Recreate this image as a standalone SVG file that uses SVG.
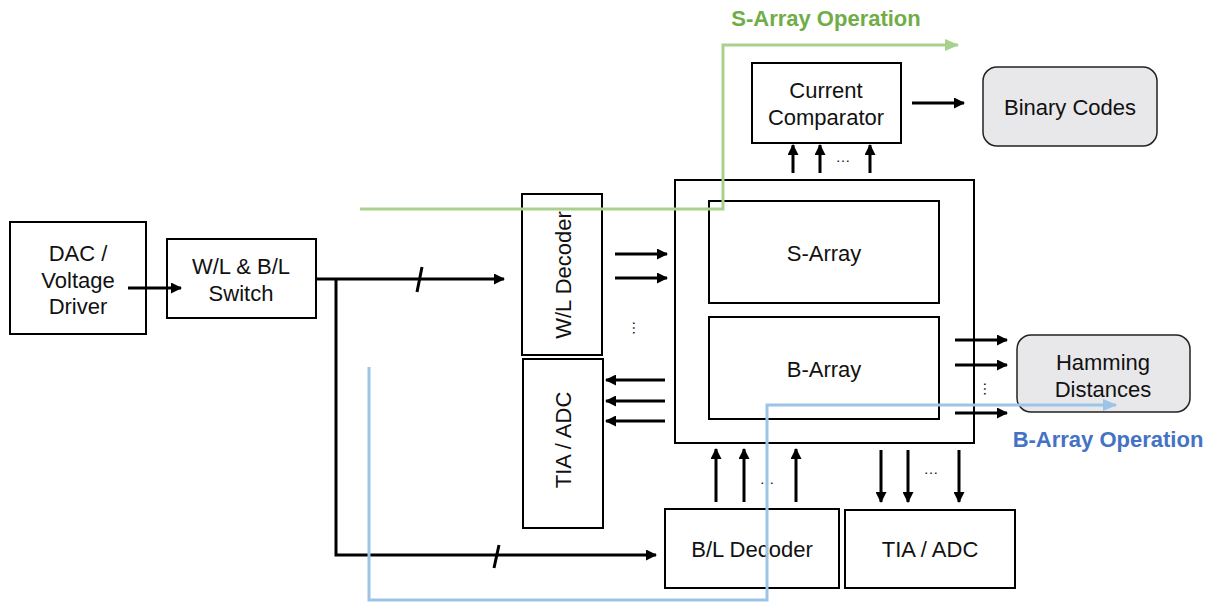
<svg xmlns="http://www.w3.org/2000/svg" width="1216" height="603" viewBox="0 0 1216 603">
<defs>
<marker id="ah" markerWidth="11" markerHeight="11" refX="10" refY="5.5" orient="auto" markerUnits="userSpaceOnUse"><path d="M0,0 L11,5.5 L0,11 z" fill="#000"/></marker>
<marker id="ag" markerWidth="14" markerHeight="12" refX="13" refY="6" orient="auto" markerUnits="userSpaceOnUse"><path d="M0,0 L14,6 L0,12 z" fill="#a9d18e"/></marker>
<marker id="ab" markerWidth="14" markerHeight="12" refX="13" refY="6" orient="auto" markerUnits="userSpaceOnUse"><path d="M0,0 L14,6 L0,12 z" fill="#9dc3e6"/></marker>
<style>
.box{fill:#fff;stroke:#000;stroke-width:2}
.rbox{fill:#e8e8ea;stroke:#222;stroke-width:1.5}
.t{font-family:"Liberation Sans",Arial,sans-serif;font-size:22px;fill:#111;text-anchor:middle}
.c{stroke:#000;stroke-width:3;fill:none}
.ca{stroke:#000;stroke-width:3;fill:none;marker-end:url(#ah)}
.dots{font-family:"Liberation Sans",Arial,sans-serif;font-size:15px;fill:#111;text-anchor:middle}
.op{font-family:"Liberation Sans",Arial,sans-serif;font-size:22px;font-weight:bold;text-anchor:middle}
</style>
</defs>
<rect width="1216" height="603" fill="#fff"/>

<g id="dac"><rect class="box" x="10" y="222" width="136" height="112"/>
<text class="t" x="78" y="261">DAC /</text><text class="t" x="78" y="288">Voltage</text><text class="t" x="78" y="314">Driver</text></g>

<g id="switch"><rect class="box" x="167" y="239" width="149" height="79"/>
<text class="t" x="241" y="274">W/L &amp; B/L</text><text class="t" x="241" y="301">Switch</text></g>

<g id="wl-decoder"><rect class="box" x="522" y="194" width="80" height="161"/>
<text class="t" transform="translate(571,275) rotate(-90)">W/L Decoder</text></g>

<g id="tia-adc-left"><rect class="box" x="523" y="359" width="80" height="169"/>
<text class="t" transform="translate(571,440) rotate(-90)">TIA / ADC</text></g>

<g id="array-block"><rect class="box" x="675" y="180" width="299" height="263"/></g>
<g id="s-array"><rect class="box" x="709" y="201" width="230" height="102"/>
<text class="t" x="824" y="261">S-Array</text></g>
<g id="b-array"><rect class="box" x="709" y="317" width="230" height="102"/>
<text class="t" x="824" y="377">B-Array</text></g>

<g id="comparator"><rect class="box" x="752" y="63" width="149" height="80"/>
<text class="t" x="826" y="98">Current</text><text class="t" x="826" y="125">Comparator</text></g>

<g id="binary-codes"><rect class="rbox" x="983" y="67" width="174" height="79" rx="14"/>
<text class="t" x="1070" y="115">Binary Codes</text></g>

<g id="hamming"><rect class="rbox" x="1017" y="335" width="173" height="77" rx="14"/>
<text class="t" x="1103" y="370">Hamming</text><text class="t" x="1103" y="397">Distances</text></g>

<g id="bl-decoder"><rect class="box" x="665" y="509" width="174" height="79"/>
<text class="t" x="752" y="557">B/L Decoder</text></g>

<g id="tia-adc-bottom"><rect class="box" x="845" y="510" width="170" height="78"/>
<text class="t" x="930" y="557">TIA / ADC</text></g>

<g id="connectors">
<line class="ca" x1="128" y1="288" x2="181" y2="288"/>
<line class="ca" x1="316" y1="279" x2="504" y2="279"/>
<line class="c" x1="417" y1="292" x2="422" y2="267" stroke-width="2.5"/>
<polyline class="ca" points="336,279 336,555 656,555"/>
<line class="c" x1="494" y1="568" x2="499" y2="545" stroke-width="2.5"/>

<line class="ca" x1="615" y1="254" x2="667" y2="254"/>
<line class="ca" x1="615" y1="278" x2="667" y2="278"/>
<text class="dots" x="638" y="333" transform="rotate(90 638 328)">…</text>

<line class="ca" x1="665" y1="380" x2="606" y2="380"/>
<line class="ca" x1="665" y1="401" x2="606" y2="401"/>
<line class="ca" x1="665" y1="421" x2="606" y2="421"/>

<line class="ca" x1="955" y1="340" x2="1007" y2="340"/>
<line class="ca" x1="955" y1="365" x2="1007" y2="365"/>
<line class="ca" x1="955" y1="413" x2="1007" y2="413"/>
<text class="dots" x="989" y="394" transform="rotate(90 989 389)">…</text>

<line class="ca" x1="912" y1="103" x2="964" y2="103"/>

<line class="ca" x1="793" y1="173" x2="793" y2="145"/>
<line class="ca" x1="820" y1="173" x2="820" y2="145"/>
<line class="ca" x1="870" y1="173" x2="870" y2="145"/>
<text class="dots" x="843" y="162">…</text>

<line class="ca" x1="716" y1="502" x2="716" y2="449"/>
<line class="ca" x1="744" y1="502" x2="744" y2="449"/>
<line class="ca" x1="796" y1="502" x2="796" y2="449"/>
<text class="dots" x="767" y="484">…</text>

<line class="ca" x1="881" y1="450" x2="881" y2="502"/>
<line class="ca" x1="908" y1="450" x2="908" y2="502"/>
<line class="ca" x1="959" y1="450" x2="959" y2="502"/>
<text class="dots" x="931" y="474">…</text>

<polyline points="360,209 723,209 723,45 958,45" fill="none" stroke="#a9d18e" stroke-width="3" marker-end="url(#ag)"/>
<polyline points="369,367 369,600 767,600 767,405 1116,405" fill="none" stroke="#9dc3e6" stroke-width="3" marker-end="url(#ab)"/>
</g>

<text class="op" x="826" y="26" fill="#70ad47">S-Array Operation</text>
<text class="op" x="1108" y="447" fill="#4472c4">B-Array Operation</text>
</svg>
